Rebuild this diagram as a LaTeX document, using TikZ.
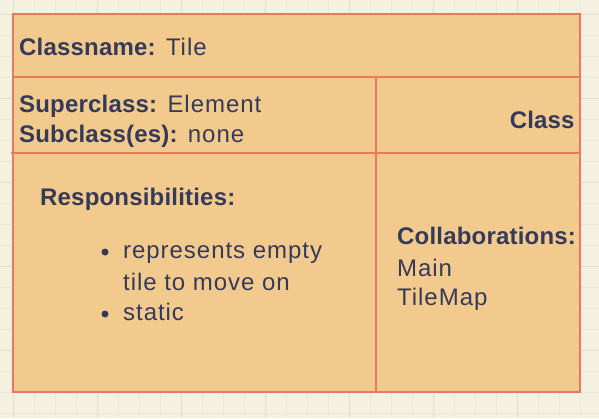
\documentclass[tikz,border=0pt]{standalone}
\usepackage{fontspec}
\setmainfont{Liberation Sans}[LetterSpace=4,BoldFeatures={LetterSpace=0.8}]
\definecolor{paper}{HTML}{F5F1E1}
\definecolor{gridminor}{HTML}{EEE9D7}
\definecolor{gridmajor}{HTML}{E4DFCB}
\definecolor{cardfill}{HTML}{F2CA8D}
\definecolor{cardline}{HTML}{E57A5E}
\definecolor{ink}{HTML}{343A57}

\begin{document}
\begin{tikzpicture}[x=1pt,y=-1pt,
	txt/.style={text=ink,font=\fontsize{24}{29}\selectfont,inner sep=0pt,anchor=base west},
	dot/.style={circle,fill=ink,inner sep=0pt,minimum size=7pt},
	rule/.style={draw=cardline,line width=2pt}]
	\fill[paper] (0,0) rectangle (599,418);
	\useasboundingbox (0,0) rectangle (599,418);
	\begin{scope}[shift={(13,14)}]
		\draw[gridminor,step=21pt,line width=1pt] (-13,-14) grid (586,404);
		\draw[gridmajor,step=84pt,line width=1pt] (-13,-14) grid (586,404);
	\end{scope}
	
	\coordinate (nw) at (13,14);
	\coordinate (se) at (580,392);
	\coordinate (top w) at (13,77);
	\coordinate (top e) at (580,77);
	\coordinate (mid w) at (11,153);
	\coordinate (mid e) at (580,153);
	\coordinate (col n) at (376,77);
	\coordinate (col s) at (376,393);
	\draw[rule,fill=cardfill] (nw) rectangle (se);
	\draw[rule] (top w) -- (top e);
	\draw[rule] (mid w) -- (mid e);
	\draw[rule] (col n) -- (col s);
	
	\node[txt] (name) at (19,55) {\textbf{Classname:} Tile};
	\node[txt] (super) at (19,112) {\textbf{Superclass:} Element};
	\node[txt] (sub) at (19,142) {\textbf{Subclass(es):} none};
	\node[txt,anchor=base east] (kind) at (575,128) {\textbf{Class}};
	
	\node[txt] (resp) at (40,205) {\textbf{Responsibilities:}};
	\node[dot] (d1) at (105,252) {};
	\node[txt] (r1) at (123,258) {represents empty};
	\node[txt] (r1b) at (123,290) {tile to move on};
	\node[dot] (d2) at (105,314) {};
	\node[txt] (r2) at (123,320) {static};
	
	\node[txt] (collab) at (397,244) {\textbf{Collaborations:}};
	\node[txt] (main) at (397,276) {Main};
	\node[txt] (map) at (397,305) {TileMap};
\end{tikzpicture}
\end{document}
